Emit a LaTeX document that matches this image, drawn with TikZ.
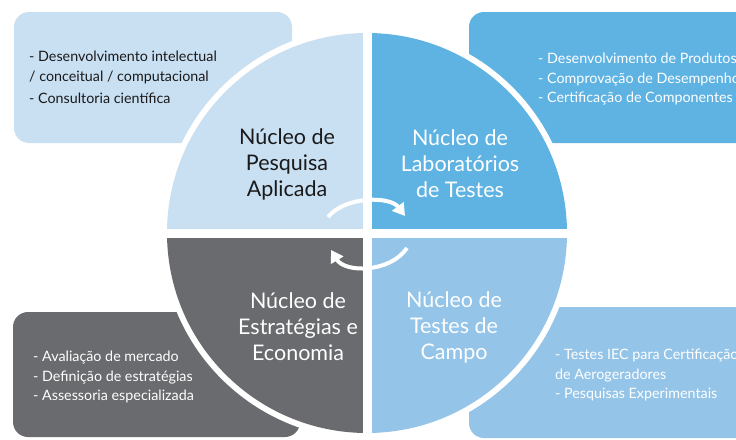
\documentclass[tikz,border=0pt]{standalone}
\usepackage{fontspec}
\setmainfont{Lato}
\usetikzlibrary{arrows.meta}
\definecolor{cA}{HTML}{C9DFF2}
\definecolor{cB}{HTML}{5FB3E3}
\definecolor{cC}{HTML}{6A6B6F}
\definecolor{cD}{HTML}{94C4E8}
\definecolor{txtdark}{HTML}{1A1A1A}
\tikzset{
  box/.style={rounded corners=15pt},
  quadtext/.style={align=center, font=\fontsize{21.5}{26}\selectfont, inner sep=0pt},
  boxtext/.style={align=left, anchor=north west, font=\fontsize{14.3}{19.5}\selectfont, inner sep=0pt},
  cyc/.style={white, line width=4pt, -{Triangle[length=12pt,width=14pt]}}
}
\begin{document}
\begin{tikzpicture}[x=1pt,y=-1pt]
\useasboundingbox (0,0) rectangle (736,439);
\begin{scope}
\clip (0,0) rectangle (736,439);
% boxes
\fill[cA,box] (14,12) rectangle (292,143);
\fill[cB,box] (469,12) rectangle (780,143);
\fill[cC,box] (13,312) rectangle (300,437);
\fill[cD,box] (469,307) rectangle (780,438);
% circle
\fill[white] (367,233) circle[radius=206];
\begin{scope}\clip (160,25) rectangle (367,233); \fill[cA] (367,233) circle[radius=200]; \end{scope}
\begin{scope}\clip (367,25) rectangle (575,233); \fill[cB] (367,233) circle[radius=200]; \end{scope}
\begin{scope}\clip (160,233) rectangle (367,440); \fill[cC] (367,233) circle[radius=200]; \end{scope}
\begin{scope}\clip (367,233) rectangle (575,440); \fill[cD] (367,233) circle[radius=200]; \end{scope}
\draw[white, line width=9pt] (367,25) -- (367,440);
\draw[white, line width=9pt] (160,233) -- (575,233);
\end{scope}
% quadrant labels
\node[quadtext, text=txtdark] (q1) at (287,164) {Núcleo de\\Pesquisa\\Aplicada};
\node[quadtext, text=white] (q2) at (460,164) {Núcleo de\\Laboratórios\\de Testes};
\node[quadtext, text=white] (q3) at (298,327) {Núcleo de\\Estratégias e\\Economia};
\node[quadtext, text=white] (q4) at (454,327) {Núcleo de\\Testes de\\Campo};
% box texts
\node[boxtext, text=txtdark] (t1) at (29,51) {- Desenvolvimento intelectual\\/ conceitual / computacional\\[3pt]- Consultoria científica};
\node[boxtext, text=white] (t2) at (538,53) {- Desenvolvimento de Produtos\\- Comprovação de Desempenho\\- Certificação de Componentes};
\node[boxtext, text=white] (t3) at (33,351) {- Avaliação de mercado\\- Definição de estratégias\\- Assessoria especializada};
\node[boxtext, text=white] (t4) at (555,349) {- Testes IEC para Certificação\\de Aerogeradores\\- Pesquisas Experimentais};
% cycle arrows
\coordinate (a1) at (328,217);
\coordinate (a2) at (405,216);
\coordinate (b1) at (407,248);
\coordinate (b2) at (331,250);
\draw[cyc] (a1) .. controls (345,196) and (390,196) .. (a2);
\draw[cyc] (b1) .. controls (390,273) and (345,273) .. (b2);
\end{tikzpicture}
\end{document}
